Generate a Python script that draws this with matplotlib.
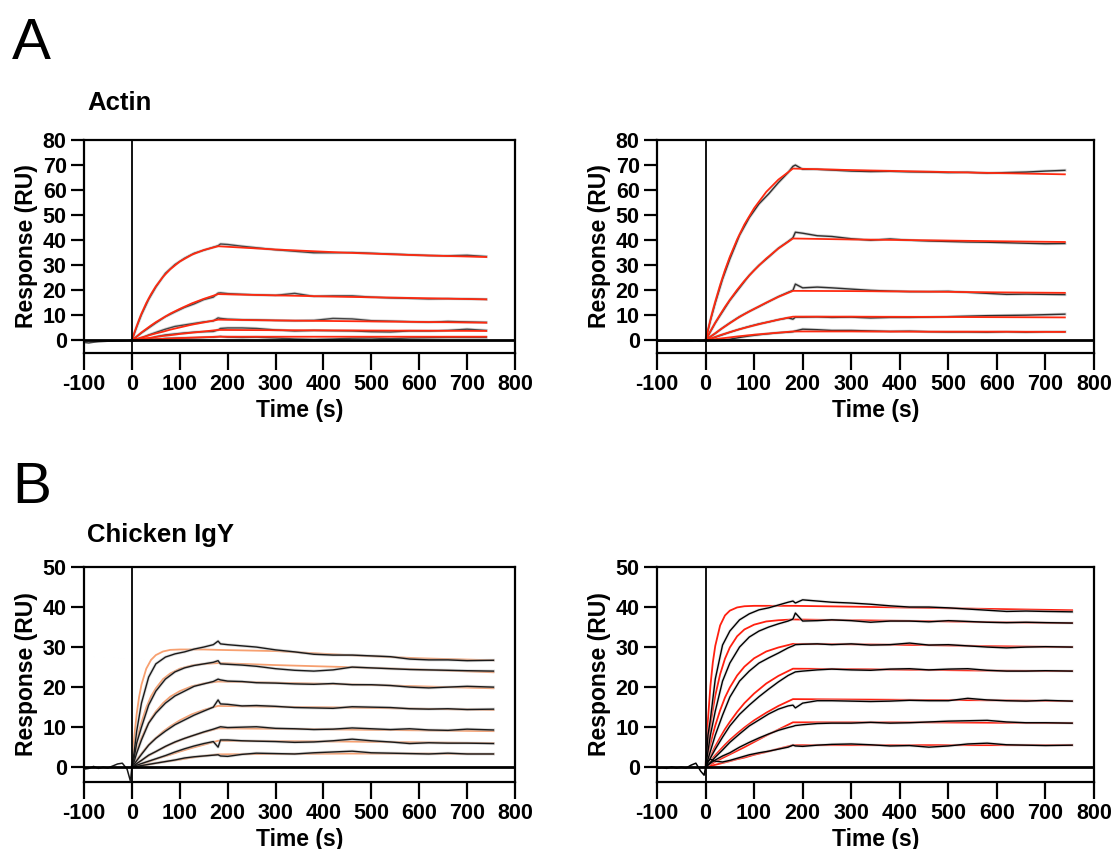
import matplotlib
matplotlib.use("Agg")
import matplotlib.pyplot as plt

plt.rcParams['font.family'] = ['Liberation Sans', 'DejaVu Sans']
plt.rcParams['axes.unicode_minus'] = False

# ---------------- time grids ----------------
T_FIT_A = [0, 5, 10, 15, 20, 30, 40, 50, 65, 80, 100, 125, 150, 180, 300, 450, 600, 740]
T_FIT_B = [0, 5, 10, 15, 20, 30, 40, 50, 65, 80, 100, 125, 150, 180, 300, 450, 600, 755]
T_DATA_A = [0, 10, 20, 35, 50, 70, 90, 110, 130, 150, 170, 180, 185, 200, 230, 260, 300,
            340, 380, 420, 460, 500, 540, 580, 620, 660, 700, 740]
T_DATA_B = [0, 5, 10, 20, 35, 50, 70, 90, 110, 130, 150, 170, 180, 185, 200, 230, 260, 300,
            340, 380, 420, 460, 500, 540, 580, 620, 660, 700, 755]
T_BASE = [-100, -90, -80, -70, -60, -50, -40, -30, -20, -10, 0]
T_BASE_B = [-100, -90, -80, -70, -60, -50, -40, -30, -20, -10, -3, 0]

# ---------------- Actin, left ----------------
actin_left_fit = [
    [0, 3.0, 5.7, 8.3, 10.7, 14.9, 18.5, 21.6, 25.4, 28.4, 31.5, 34.2, 36.1, 37.6, 36.3, 35.0, 34.0, 33.3],
    [0, 0.8, 1.6, 2.4, 3.2, 4.6, 6.0, 7.3, 9.0, 10.7, 12.6, 14.8, 16.6, 18.5, 18.0, 17.4, 16.9, 16.4],
    [0, 0.3, 0.6, 0.9, 1.2, 1.7, 2.3, 2.8, 3.5, 4.3, 5.2, 6.3, 7.2, 8.3, 8.0, 7.7, 7.4, 7.1],
    [0, 0.15, 0.3, 0.45, 0.6, 0.9, 1.1, 1.4, 1.8, 2.1, 2.6, 3.1, 3.6, 4.2, 4.1, 4.0, 3.9, 3.8],
    [0, 0.05, 0.1, 0.16, 0.2, 0.3, 0.4, 0.5, 0.64, 0.77, 0.94, 1.13, 1.3, 1.5, 1.5, 1.5, 1.5, 1.5],
]
actin_left_data = [
    [0, 5.4, 10.3, 16.4, 21.3, 26.8, 30.3, 32.8, 34.8, 36.0, 37.2, 37.8, 38.5, 38.3, 37.6, 37.0, 36.2,
     35.6, 35.0, 35.0, 35.1, 34.8, 34.5, 34.2, 33.9, 33.8, 34.0, 33.5],
    [0, 1.5, 3.0, 5.0, 7.0, 9.5, 11.4, 13.2, 14.6, 16.3, 17.3, 18.9, 19.0, 18.7, 18.4, 18.2, 18.0,
     18.8, 17.6, 17.8, 17.8, 17.3, 17.0, 16.8, 16.6, 16.7, 16.6, 16.4],
    [0, 0.5, 1.0, 2.2, 3.2, 4.5, 5.6, 6.2, 6.8, 7.4, 7.8, 9.0, 8.8, 8.5, 8.3, 8.2, 8.0,
     7.9, 8.0, 8.8, 8.6, 7.9, 7.7, 7.5, 7.3, 7.6, 7.4, 7.2],
    [0, 0.2, 0.4, 0.6, 1.5, 2.2, 2.6, 3.0, 3.3, 3.5, 3.6, 4.2, 4.8, 5.0, 5.0, 4.8, 4.2,
     3.8, 4.0, 3.9, 3.8, 3.5, 3.4, 3.8, 3.8, 4.0, 4.5, 4.0],
    [0, 0.1, 0.2, 0.3, 0.5, 0.8, 0.9, 1.0, 1.1, 1.2, 1.3, 1.5, 1.6, 1.3, 1.2, 1.3, 1.0,
     0.6, 0.4, 0.6, 0.9, 1.0, 0.7, 1.0, 1.1, 1.2, 1.2, 1.2],
]
actin_left_base = [-0.8, -1.0, -0.7, -0.5, -0.4, -0.3, -0.3, -0.2, -0.2, -0.1, 0.0]

# ---------------- Actin, right ----------------
actin_right_fit = [
    [0, 4.2, 8.2, 12.0, 15.5, 22.1, 28.1, 33.4, 40.3, 46.3, 52.8, 59.3, 64.2, 68.6, 68.0, 67.4, 66.8, 66.3],
    [0, 1.9, 3.7, 5.4, 7.1, 10.3, 13.4, 16.2, 20.2, 23.8, 28.0, 32.7, 36.7, 40.7, 40.3, 40.0, 39.6, 39.3],
    [0, 0.75, 1.5, 2.2, 2.9, 4.3, 5.6, 6.9, 8.8, 10.5, 12.6, 15.1, 17.4, 19.8, 19.7, 19.5, 19.2, 19.0],
    [0, 0.36, 0.72, 1.05, 1.4, 2.1, 2.7, 3.3, 4.2, 5.0, 6.0, 7.2, 8.3, 9.5, 9.5, 9.4, 9.3, 9.2],
    [0, 0.14, 0.27, 0.4, 0.52, 0.77, 1.0, 1.24, 1.6, 1.9, 2.3, 2.7, 3.1, 3.6, 3.6, 3.5, 3.5, 3.4],
]
actin_right_data = [
    [0, 8.0, 15.0, 24.5, 32.5, 42.0, 49.0, 54.5, 58.5, 63.0, 67.0, 69.5, 70.0, 68.3, 68.3, 68.0, 67.6,
     67.4, 67.5, 67.3, 67.2, 67.0, 67.1, 66.8, 67.0, 67.2, 67.6, 67.9],
    [0, 3.5, 7.0, 11.5, 16.0, 21.0, 26.0, 30.0, 33.3, 36.8, 39.5, 41.0, 43.2, 42.8, 41.8, 41.5, 40.6,
     40.0, 40.5, 40.0, 39.7, 39.5, 39.3, 39.2, 39.0, 38.8, 38.6, 38.7],
    [0, 1.5, 2.8, 5.0, 7.0, 9.5, 11.6, 13.5, 15.5, 17.5, 19.2, 20.0, 22.5, 21.0, 21.3, 21.0, 20.5,
     20.0, 19.7, 19.5, 19.5, 19.6, 19.2, 18.8, 18.4, 18.5, 18.4, 18.3],
    [0, 0.6, 1.3, 2.3, 3.3, 4.5, 5.6, 6.6, 7.4, 8.3, 9.0, 8.5, 9.3, 9.3, 9.4, 9.2, 9.3,
     9.0, 9.2, 9.2, 9.3, 9.5, 9.7, 9.9, 10.0, 10.1, 10.3, 10.5],
    [0, 0.0, 0.0, 0.2, 0.5, 1.2, 1.8, 2.3, 2.7, 3.1, 3.3, 3.5, 3.8, 4.5, 4.3, 4.0, 4.0,
     3.8, 3.6, 3.7, 3.5, 3.4, 3.4, 3.3, 3.5, 3.3, 3.5, 3.5],
]
actin_right_base = [-0.3, -0.2, -0.3, -0.2, -0.3, -0.2, -0.3, -0.2, -0.1, -0.2, 0.0]

# ---------------- Chicken IgY, left ----------------
igy_left_fit = [
    [0, 7.6, 13.3, 17.5, 20.6, 24.6, 26.8, 28.0, 28.9, 29.3, 29.4, 29.4, 29.4, 29.3, 29.0, 28.0, 27.2, 26.7],
    [0, 3.4, 6.4, 9.0, 11.2, 14.9, 17.7, 19.7, 22.0, 23.4, 24.6, 25.4, 25.8, 26.0, 25.5, 25.0, 24.4, 23.7],
    [0, 2.1, 4.0, 5.7, 7.3, 9.9, 12.1, 13.9, 16.0, 17.6, 19.0, 20.2, 20.9, 21.4, 21.1, 20.7, 20.2, 19.7],
    [0, 0.9, 1.8, 2.6, 3.4, 4.9, 6.2, 7.3, 8.9, 10.2, 11.7, 13.2, 14.3, 15.3, 15.1, 14.9, 14.6, 14.3],
    [0, 0.45, 0.9, 1.3, 1.7, 2.5, 3.2, 3.9, 4.8, 5.7, 6.7, 7.8, 8.7, 9.7, 9.6, 9.4, 9.2, 9.0],
    [0, 0.2, 0.4, 0.6, 0.8, 1.2, 1.6, 2.0, 2.6, 3.1, 3.9, 4.8, 5.6, 6.6, 6.5, 6.4, 6.2, 6.0],
    [0, 0.1, 0.2, 0.3, 0.4, 0.6, 0.8, 1.0, 1.3, 1.55, 1.9, 2.4, 2.8, 3.2, 3.3, 3.4, 3.4, 3.3],
]
igy_left_data = [
    [0, 4, 9, 16, 22.5, 25.8, 27.5, 28.3, 28.8, 29.5, 30.0, 30.6, 31.5, 30.8, 30.6, 30.3, 30.0, 29.3,
     28.8, 28.2, 28.0, 28.0, 27.8, 27.6, 27.0, 26.8, 26.8, 26.6, 26.7],
    [0, 2.5, 6, 10, 15.5, 19, 22, 23.8, 24.8, 25.4, 25.8, 26.2, 26.6, 25.8, 25.7, 25.5, 25.2, 24.6,
     24.2, 24.0, 24.3, 25.0, 24.8, 24.6, 24.4, 24.3, 24.2, 24.1, 24.0],
    [0, 1.5, 3.5, 6.8, 11.0, 13.5, 16.0, 17.8, 19.0, 20.2, 20.8, 21.4, 22.0, 21.8, 21.5, 21.4, 21.1, 21.0,
     20.8, 20.7, 20.9, 20.6, 20.6, 20.4, 20.0, 19.8, 20.0, 20.2, 20.0],
    [0, 0.8, 1.6, 3.2, 5.5, 7.2, 9.0, 10.6, 11.8, 13.0, 14.0, 15.0, 16.8, 15.8, 15.7, 15.3, 15.4, 15.2,
     14.9, 14.8, 14.7, 15.1, 15.0, 14.9, 14.6, 14.5, 14.6, 14.4, 14.5],
    [0, 0.4, 0.9, 1.7, 3.0, 3.9, 5.2, 6.3, 7.2, 8.0, 8.8, 9.5, 9.9, 10.1, 9.9, 10.0, 10.1, 9.7,
     9.6, 9.4, 9.5, 9.8, 9.6, 9.4, 9.6, 9.3, 9.2, 9.5, 9.3],
    [0, 0.3, 0.5, 0.9, 1.5, 2.1, 2.9, 3.8, 4.6, 5.3, 5.9, 6.4, 5.0, 6.8, 6.8, 6.6, 6.5, 6.4,
     6.2, 6.3, 6.6, 7.0, 6.6, 6.3, 5.9, 6.1, 6.0, 6.0, 5.9],
    [0, 0.1, 0.2, 0.4, 0.7, 1.0, 1.4, 1.8, 2.3, 2.6, 2.8, 3.0, 3.1, 2.8, 2.7, 3.2, 3.5, 3.4,
     3.3, 3.6, 3.8, 4.0, 3.6, 3.5, 3.4, 3.3, 3.5, 3.3, 3.3],
]
igy_left_base = [-0.5, -0.3, 0.2, -0.3, 0.0, -0.2, 0.3, 0.8, 1.0, -0.5, -3.5, 0.0]

# ---------------- Chicken IgY, right ----------------
igy_right_fit = [
    [0, 11.9, 20.3, 26.2, 30.3, 35.4, 37.9, 39.1, 39.9, 40.2, 40.3, 40.3, 40.3, 40.3, 40.1, 39.8, 39.5, 39.2],
    [0, 5.6, 10.4, 14.4, 17.9, 23.2, 27.1, 29.9, 32.7, 34.4, 35.6, 36.4, 36.7, 36.9, 36.7, 36.5, 36.2, 36.0],
    [0, 3.0, 5.7, 8.2, 10.4, 14.2, 17.4, 19.9, 22.9, 25.1, 27.2, 28.9, 29.9, 30.8, 30.7, 30.5, 30.2, 30.0],
    [0, 1.4, 2.7, 4.0, 5.2, 7.4, 9.5, 11.3, 13.8, 16.0, 18.4, 20.9, 22.8, 24.6, 24.5, 24.3, 24.1, 24.0],
    [0, 0.8, 1.5, 2.3, 3.0, 4.3, 5.6, 6.8, 8.4, 9.9, 11.7, 13.6, 15.3, 17.0, 16.9, 16.8, 16.7, 16.5],
    [0, 0.35, 0.7, 1.0, 1.35, 2.0, 2.6, 3.2, 4.1, 5.0, 6.3, 7.9, 9.4, 11.2, 11.2, 11.2, 11.1, 11.0],
    [0, 0.15, 0.3, 0.46, 0.6, 0.9, 1.2, 1.5, 2.0, 2.4, 3.1, 3.8, 4.6, 5.5, 5.5, 5.5, 5.5, 5.5],
]
igy_right_data = [
    [0, 8, 12, 22, 30.5, 34, 36.8, 38.3, 39.3, 39.8, 40.5, 41.2, 41.5, 41.0, 41.8, 41.5, 41.2, 41.0,
     40.7, 40.3, 40.0, 40.0, 39.8, 39.5, 39.2, 38.9, 39.0, 38.9, 38.8],
    [0, 4, 8, 14, 21.5, 26, 30, 32.5, 34, 35, 35.8, 36.5, 37.0, 38.5, 36.5, 36.6, 36.8, 36.6,
     36.2, 36.5, 36.5, 36.3, 36.6, 36.4, 36.2, 36.1, 36.2, 36.1, 36.0],
    [0, 2, 4, 8, 13, 17.5, 21.5, 24, 26, 27.3, 28.5, 29.8, 30.3, 30.6, 30.7, 30.8, 30.6, 30.8,
     30.5, 30.6, 31.0, 30.5, 30.6, 30.3, 30.0, 29.8, 30.0, 30.1, 30.0],
    [0, 1.2, 2.3, 4.5, 7.5, 10.3, 13.2, 15.5, 17.6, 19.5, 21.3, 22.9, 23.5, 23.8, 24.0, 24.3, 24.5, 24.3,
     24.2, 24.5, 24.6, 24.3, 24.5, 24.6, 24.2, 24.0, 24.0, 24.1, 24.0],
    [0, 0.6, 1.2, 2.5, 4.3, 6.2, 8.3, 10.3, 11.8, 13.3, 14.5, 15.3, 15.5, 14.8, 16.0, 16.6, 16.6, 16.5,
     16.4, 16.5, 16.7, 16.6, 16.6, 17.2, 16.8, 16.6, 16.5, 16.7, 16.5],
    [0, 0.5, 1.0, 1.8, 2.8, 3.6, 5.0, 6.2, 7.3, 8.3, 9.2, 9.9, 10.2, 10.4, 10.6, 10.9, 11.0, 11.0,
     11.2, 11.0, 11.1, 11.3, 11.5, 11.6, 11.7, 11.3, 11.1, 11.1, 11.0],
    [0, 1.5, 2.0, 1.5, 1.3, 1.7, 2.4, 3.1, 3.6, 4.0, 4.5, 5.0, 5.5, 5.3, 5.2, 5.5, 5.7, 5.8,
     5.6, 5.3, 5.4, 5.0, 5.3, 5.8, 6.0, 5.6, 5.5, 5.4, 5.5],
]
igy_right_base = [-0.3, -0.1, -0.3, 0.1, -0.2, 0.0, -0.2, 0.5, 1.0, -1.0, -2.0, 0.0]

X_TICKS = [-100, 0, 100, 200, 300, 400, 500, 600, 700, 800]
Y_TICKS_A = [0, 10, 20, 30, 40, 50, 60, 70, 80]
Y_TICKS_B = [0, 10, 20, 30, 40, 50]

PANEL_LABELS = ["A", "B"]
PANEL_TITLES = ["Actin", "Chicken IgY"]
XLABEL = "Time (s)"
YLABEL = "Response (RU)"

# ---------------- figure ----------------
W, H = 1111, 849
fig = plt.figure(figsize=(W / 100, H / 100), dpi=100)

def px_axes(x0, y_top, x1, y_bot):
    return fig.add_axes([x0 / W, 1 - y_bot / H, (x1 - x0) / W, (y_bot - y_top) / H])

TICK_FS = 15.5
LABEL_FS = 16.5

def style(ax, ylim, yticks):
    ax.set_xlim(-100, 800)
    ax.set_ylim(*ylim)
    ax.set_xticks(X_TICKS)
    ax.set_yticks(yticks)
    for s in ax.spines.values():
        s.set_linewidth(1.6)
    ax.tick_params(axis='both', direction='out', width=1.6, labelsize=TICK_FS)
    ax.tick_params(axis='x', length=12, pad=3)
    ax.tick_params(axis='y', length=9.5, pad=3)
    for lab in ax.get_xticklabels() + ax.get_yticklabels():
        lab.set_fontweight('bold')
    ax.axhline(0, color='black', lw=2.0, zorder=5)
    ax.axvline(0, color='black', lw=1.3, zorder=5)
    ax.set_xlabel(XLABEL, fontsize=LABEL_FS, fontweight='bold', labelpad=3)
    ax.set_ylabel(YLABEL, fontsize=LABEL_FS, fontweight='bold', labelpad=3)

def draw(ax, t_base, base, t_data, data, t_fit, fits, data_color, halo, fit_color, fits_on_top):
    zd, zf = (2, 3) if fits_on_top else (3, 2)
    ax.plot(t_base, base, color=data_color, lw=1.1, zorder=zd)
    for row in data:
        ax.plot(t_data, row, color=halo, lw=2.2, alpha=0.5, zorder=zd - 0.5,
                solid_joinstyle='round')
        ax.plot(t_data, row, color=data_color, lw=1.0, zorder=zd)
    for row in fits:
        ax.plot(t_fit, row, color=fit_color, lw=1.3, zorder=zf)

ax1 = px_axes(84, 140, 515, 353)
draw(ax1, T_BASE, actin_left_base, T_DATA_A, actin_left_data, T_FIT_A, actin_left_fit,
     '#454545', '#a8a8a8', '#ff2a10', True)
style(ax1, (-5, 80), Y_TICKS_A)

ax2 = px_axes(657, 140, 1094, 353)
draw(ax2, T_BASE, actin_right_base, T_DATA_A, actin_right_data, T_FIT_A, actin_right_fit,
     '#303030', '#a8a8a8', '#ff2a10', True)
style(ax2, (-5, 80), Y_TICKS_A)

ax3 = px_axes(84, 567, 515, 782)
draw(ax3, T_BASE_B, igy_left_base, T_DATA_B, igy_left_data, T_FIT_B, igy_left_fit,
     '#1a1a1a', '#b8b8b8', '#f7a070', False)
style(ax3, (-3.7, 50), Y_TICKS_B)

ax4 = px_axes(657, 567, 1094, 782)
draw(ax4, T_BASE_B, igy_right_base, T_DATA_B, igy_right_data, T_FIT_B, igy_right_fit,
     '#000000', '#c8c8c8', '#ff2010', False)
style(ax4, (-3.7, 50), Y_TICKS_B)

fig.text(12 / W, 1 - 59 / H, PANEL_LABELS[0], fontsize=42, va='baseline', ha='left')
fig.text(12 / W, 1 - 503 / H, PANEL_LABELS[1], fontsize=42, va='baseline', ha='left')
fig.text(87 / W, 1 - 110 / H, PANEL_TITLES[0], fontsize=18.5, fontweight='bold', va='baseline', ha='left')
fig.text(87 / W, 1 - 542 / H, PANEL_TITLES[1], fontsize=18.5, fontweight='bold', va='baseline', ha='left')

fig.savefig("out.png", dpi=100)
